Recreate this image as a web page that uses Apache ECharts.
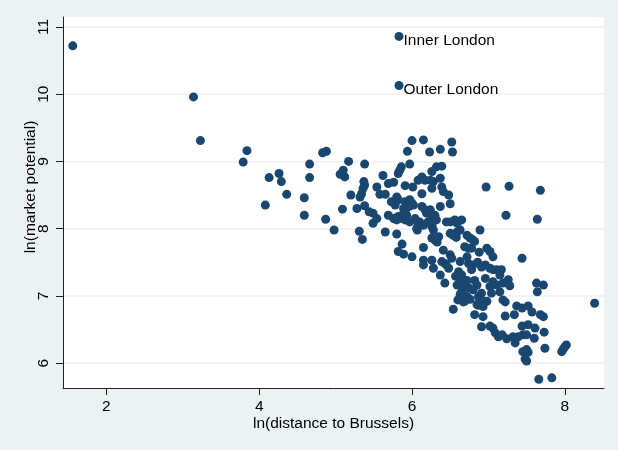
<!DOCTYPE html>
<html>
<head>
<meta charset="utf-8">
<script src="https://cdn.jsdelivr.net/npm/echarts@6/dist/echarts.min.js"></script>
<style>
html,body{margin:0;padding:0;background:#EAF2F3;}
#chart{width:618px;height:450px;}
</style>
</head>
<body>
<div id="chart"></div>
<script>
// ln(distance to Brussels), ln(market potential)
const points = [
[1.56,10.72],[3.14,9.96],[3.23,9.31],[3.79,8.99],[3.84,9.16],[4.08,8.35],[4.13,8.76],[4.26,8.82],[4.29,8.70],[4.36,8.51],
[4.59,8.46],[4.59,8.20],[4.66,8.96],[4.66,8.76],[4.83,9.13],[4.88,9.15],[4.87,8.14],[4.98,7.98],[5.06,8.81],[5.10,8.87],
[5.12,8.77],[5.09,8.29],[5.17,9.00],[5.20,8.50],[5.28,8.30],[5.31,7.96],[5.35,7.84],[5.32,8.47],[5.34,8.52],[5.36,8.60],
[5.38,8.65],[5.37,8.70],[5.38,8.96],[5.38,8.34],[5.44,8.25],
[5.49,8.08],[5.54,8.15],
[6.00,9.31],[6.15,9.32],[6.52,9.29],[5.94,9.15],[6.23,9.14],[6.37,9.18],[6.53,9.14],[5.97,8.96],[5.86,8.92],[5.84,8.87],
[5.82,8.82],[5.62,8.79],[5.54,8.62],[5.69,8.67],[5.76,8.69],[5.58,8.51],[5.65,8.51],[5.91,8.64],[6.01,8.62],[6.26,8.85],
[6.32,8.92],[6.39,8.93],[6.13,8.77],[6.08,8.72],[6.17,8.72],[6.24,8.72],[6.28,8.70],[6.37,8.75],[6.26,8.60],[6.39,8.62],
[6.41,8.55],[6.13,8.52],[6.48,8.50],[6.50,8.37],[5.80,8.47],[5.82,8.43],[5.73,8.40],[5.78,8.35],[5.97,8.43],[6.00,8.38],
[6.02,8.35],[5.96,8.33],[5.91,8.40],[5.89,8.30],[5.91,8.24],[5.87,8.20],[6.13,8.33],[6.17,8.28],[6.19,8.23],[6.24,8.28],
[6.26,8.18],[6.30,8.20],[6.37,8.33],[5.49,8.23],[5.69,8.20],[5.76,8.15],[5.80,8.13],[5.93,8.20],[5.91,8.13],[6.04,8.15],
[6.10,8.10],[6.21,8.10],[6.32,8.13],[6.50,8.10],[6.56,8.13],[6.65,8.13],
[5.82,8.18],[5.87,8.15],[5.97,8.10],[6.15,8.05],[6.26,8.03],[6.45,8.10],[6.59,8.08],[6.06,8.00],[6.08,8.05],[6.26,8.05],[6.28,7.98],
[5.65,7.95],[5.80,7.92],[6.15,7.72],[6.26,7.86],[6.30,7.83],[6.35,7.88],[6.50,7.93],[6.54,7.90],[6.59,7.95],[6.63,7.98],
[5.87,7.77],[5.82,7.66],[5.89,7.62],[6.00,7.58],[6.41,7.68],[6.15,7.53],[6.15,7.46],[6.26,7.53],[6.28,7.41],[6.39,7.51],
[6.43,7.48],[6.45,7.46],[6.50,7.61],[6.52,7.56],[6.48,7.41],[6.63,7.51],[6.61,7.36],[6.65,7.31],[6.63,7.24],[6.37,7.31],
[6.43,7.19],[6.59,7.16],[6.65,7.06],[6.69,7.14],[6.60,6.94],[6.67,6.96],[6.72,6.99],[6.54,6.80],[6.07,7.98],[6.33,7.80],
[6.58,7.87],[6.57,7.29],
[6.97,8.62],[7.23,8.20],[7.27,8.63],[7.64,8.14],[7.68,8.57],[6.89,7.98],
[6.72,7.90],[6.76,7.86],[6.80,7.83],[6.82,7.81],[6.69,7.73],[6.74,7.71],[6.78,7.71],[6.98,7.71],[7.02,7.66],[7.06,7.58],
[7.44,7.56],[6.72,7.58],[6.74,7.48],[6.80,7.46],[6.78,7.39],[6.91,7.43],[6.96,7.46],[7.02,7.41],[7.06,7.39],[7.11,7.39],
[7.17,7.39],[7.15,7.31],[6.96,7.26],[6.67,7.21],[6.72,7.23],[6.82,7.23],[6.85,7.16],[6.80,7.09],[7.06,7.21],[7.02,7.14],
[7.11,7.16],[7.19,7.19],[7.26,7.24],[7.28,7.15],[7.15,7.06],[7.63,7.19],[7.72,7.16],[7.64,7.06],[6.87,6.99],[6.91,6.94],
[6.98,6.92],[6.87,6.86],[6.93,6.84],[7.04,7.04],[7.19,6.94],[6.88,7.65],[6.63,7.02],[6.67,6.99],[6.76,6.95],[6.69,6.92],
[6.74,7.12],[6.91,7.04],[6.86,7.50],
[6.67,6.91],[6.85,6.87],[6.89,6.88],[7.22,6.91],[6.82,6.72],[6.93,6.69],[7.22,6.70],[7.34,6.72],[7.37,6.85],[7.44,6.82],
[7.52,6.85],[7.57,6.76],[7.68,6.72],[7.72,6.69],[8.39,6.89],[6.91,6.54],[7.02,6.55],[7.06,6.52],[7.09,6.45],[7.13,6.39],
[7.18,6.42],[7.24,6.36],[7.32,6.39],[7.35,6.30],[7.39,6.39],[7.45,6.42],[7.50,6.42],[7.44,6.55],[7.52,6.57],[7.61,6.52],
[7.60,6.37],[7.73,6.46],[7.45,6.17],[7.50,6.20],[7.52,6.16],[7.48,6.06],[7.50,6.03],[7.74,6.22],[7.96,6.17],[7.98,6.21],
[8.00,6.24],[8.02,6.27],[7.66,5.76],[7.83,5.78]
];
const londonNames = ['Inner London', 'Outer London'];
const londonPoints = [[5.83,10.86],[5.83,10.13]];
const xTicks = [2, 4, 6, 8];
const yTicks = [6, 7, 8, 9, 10, 11];

const FONT = 'Liberation Sans, Arial, sans-serif';
const NAVY = '#1A476F';
const chart = echarts.init(document.getElementById('chart'), null, {renderer: 'canvas'});
chart.setOption({
  backgroundColor: '#EAF2F3',
  animation: false,
  grid: {left: 63, right: 14, top: 17, bottom: 62, show: true, backgroundColor: '#ffffff', borderWidth: 0},
  xAxis: {
    type: 'value', min: 1.432, max: 8.513,
    name: 'ln(distance to Brussels)', nameLocation: 'middle', nameGap: 28, nameMoveOverlap: false,
    nameTextStyle: {fontFamily: FONT, fontSize: 15.5, color: '#000'},
    axisLine: {show: true, lineStyle: {color: '#222', width: 1}},
    axisTick: {show: true, length: 7, customValues: xTicks, lineStyle: {color: '#222'}},
    axisLabel: {customValues: xTicks, margin: 11, fontFamily: FONT, fontSize: 15.5, color: '#000'},
    splitLine: {show: false}
  },
  yAxis: {
    type: 'value', min: 5.629, max: 11.149,
    name: 'ln(market potential)', nameLocation: 'middle', nameRotate: 90, nameGap: 24, nameMoveOverlap: false,
    nameTextStyle: {fontFamily: FONT, fontSize: 15.5, color: '#000', padding: [0, 0, 0, 31]},
    axisLine: {show: true, lineStyle: {color: '#222', width: 1}},
    axisTick: {show: true, length: 7, customValues: yTicks, lineStyle: {color: '#222'}},
    axisLabel: {customValues: yTicks, rotate: 90, margin: 11, fontFamily: FONT, fontSize: 15.5, color: '#000'},
    splitLine: {show: true, lineStyle: {color: '#EAF2F3', width: 1.5}}
  },
  series: [
    {
      type: 'scatter', data: points, symbol: 'circle', symbolSize: 9,
      itemStyle: {color: NAVY, opacity: 1}
    },
    {
      type: 'scatter', symbol: 'circle', symbolSize: 9,
      itemStyle: {color: NAVY, opacity: 1},
      data: londonPoints.map((p, i) => ({value: p, name: londonNames[i]})),
      label: {show: true, position: 'right', distance: 0, offset: [0, 4], formatter: '{b}',
        fontFamily: FONT, fontSize: 15.5, color: '#000'}
    }
  ]
});
</script>
</body>
</html>
